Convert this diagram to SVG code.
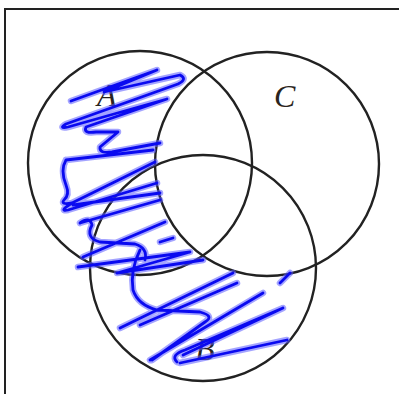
<svg xmlns="http://www.w3.org/2000/svg" width="399" height="394" viewBox="0 0 399 394">
<style>
.c{fill:none;stroke:#222;stroke-width:2.4}
.lbl{font-family:"Liberation Serif",serif;font-style:italic;font-size:32px;fill:#2a2420}
.halo{fill:none;stroke:#5a5aff;stroke-width:6.5;stroke-opacity:0.55;stroke-linecap:round;stroke-linejoin:round}
.ink{fill:none;stroke:#0a0af0;stroke-width:2.8;stroke-linecap:round;stroke-linejoin:round}
</style>
<rect x="0" y="0" width="399" height="394" fill="#fff"/>
<rect x="5" y="9" width="400" height="400" fill="none" stroke="#222" stroke-width="2"/>
<g id="circleA"><circle class="c" cx="140" cy="163" r="112"/><text class="lbl" x="97" y="106">A</text></g>
<g id="circleC"><circle class="c" cx="267" cy="164" r="112"/><text class="lbl" x="274" y="107">C</text></g>
<g id="circleB"><circle class="c" cx="203" cy="268" r="113"/><text class="lbl" x="195" y="360" font-size="28">B</text></g>
<defs>
<path id="scr" d="M71,101 L157,70 L104,92 L180,75 Q188,79 178,84 L66,124 Q58,129 68,127 L167,99 L86,127 Q83,134 96,132 L118,132 L100,147 Q99,154 112,152 L160,143
M66,160 L153,150
M66,160 Q60,170 66,185 Q70,195 64,200 Q60,205 72,203 L155,162
M72,203 Q58,212 68,210 L157,183
M73,205 L160,193
M80,223 L160,200
M80,223 Q90,216 92,225 Q85,238 100,242 L135,244 Q148,248 145,260
M83,257 L165,222
M160,242 L173,238
M78,267 L190,252 L117,273 L203,260
M140,250 Q130,270 133,290 Q138,305 157,310 L200,312 Q215,316 205,322 L152,360
M120,328 L233,273
M140,325 L237,283
M150,360 L263,293
M177,362 Q170,355 185,350 L283,308 L183,355
M180,363 L287,340
M280,283 L290,273"/>
</defs>
<g id="scribble">
<use href="#scr" class="halo"/>
<use href="#scr" class="ink"/>
</g>
</svg>
